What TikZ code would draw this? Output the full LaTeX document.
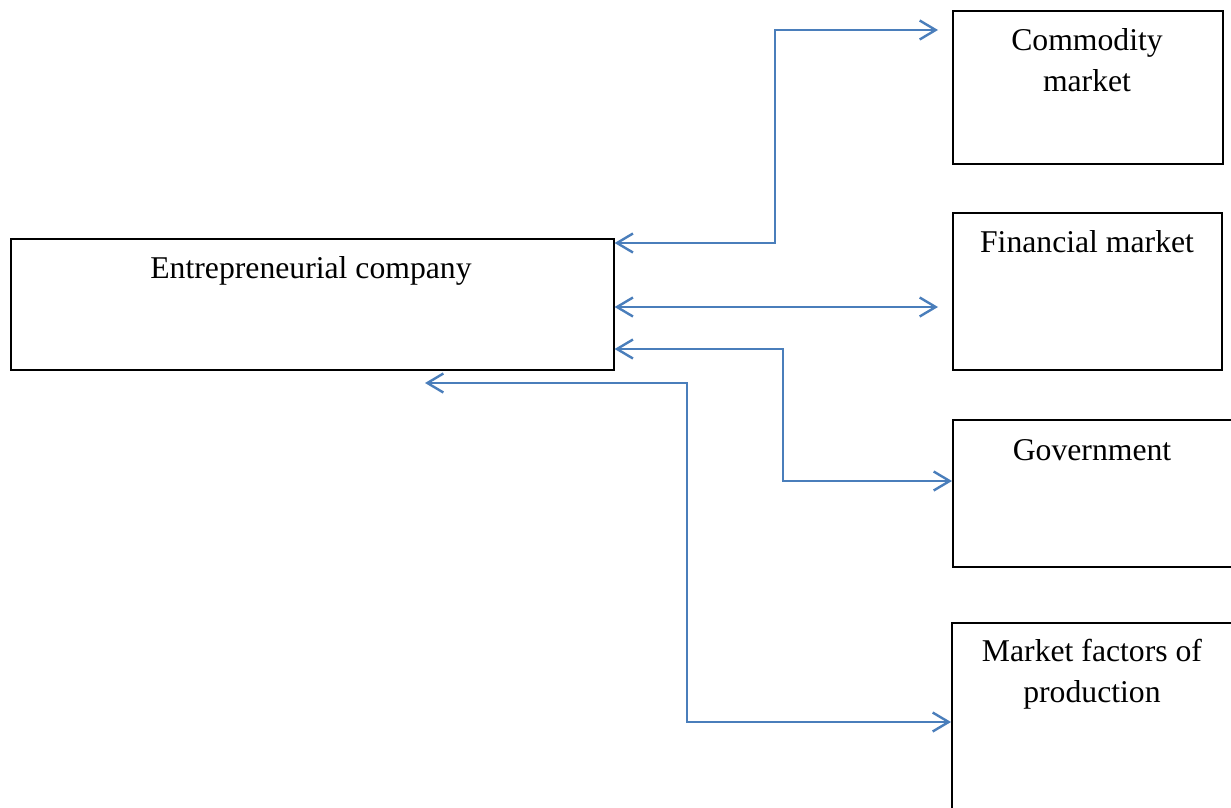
\documentclass[tikz,border=0pt]{standalone}
\usepackage{fontspec}
\setmainfont{Liberation Serif}
\usetikzlibrary{arrows.meta}
\definecolor{arrowblue}{RGB}{74,126,187}
\tikzset{
  box/.style={draw=black, line width=1.6pt, rectangle, inner sep=0pt, anchor=north west},
  lbl/.style={font=\fontsize{31.7}{41}\selectfont, align=center, anchor=base, inner sep=0pt},
  link/.style={draw=arrowblue, line width=2.4pt, line join=miter,
    {Straight Barb[length=16pt,width=19pt]}-{Straight Barb[length=16pt,width=19pt]}}
}
\begin{document}
\begin{tikzpicture}[x=1pt,y=-1pt]
\useasboundingbox[fill=white] (0,0) rectangle (1231,808);
% boxes
\node[box, minimum width=603pt, minimum height=131pt] (comp) at (10,238) {};
\node[box, minimum width=270pt, minimum height=153pt] (comm) at (952,10) {};
\node[box, minimum width=269pt, minimum height=157pt] (fin) at (952,212) {};
\node[box, minimum width=290pt, minimum height=147pt] (gov) at (952,419) {};
\node[box, minimum width=290pt, minimum height=200pt] (mfp) at (951,622) {};
% labels
\node[lbl] (tcomp) at (311,278) {Entrepreneurial company};
\node[lbl] (tcomm) at (1087,92) {Commodity\\market};
\node[lbl] (tfin) at (1087,252) {Financial market};
\node[lbl] (tgov) at (1092,460) {Government};
\node[lbl] (tmfp) at (1092,702) {Market factors of\\production};
% connectors
\draw[link, shorten >=14pt] (comp.east |- 0,243) -- (775,243) -- (775,30) -- (comm.west |- 0,30);
\draw[link, shorten >=14pt] (comp.east |- 0,307) -- (fin.west |- 0,307);
\draw[link] (comp.east |- 0,349) -- (783,349) -- (783,481) -- (gov.west |- 0,481);
\coordinate (free) at (425,383);
\draw[link] (free) -- (687,383) -- (687,722) -- (mfp.west |- 0,722);
\end{tikzpicture}
\end{document}
